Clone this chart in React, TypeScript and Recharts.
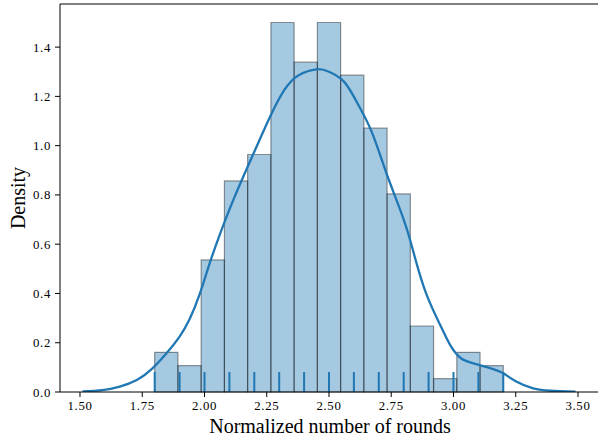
import React from 'react';
import { ComposedChart, XAxis, YAxis, Line, ReferenceArea, ReferenceLine, Label } from 'recharts';

// Histogram bin edges and densities
const binEdges = [1.8, 1.8933, 1.9867, 2.08, 2.1733, 2.2667, 2.36, 2.4533, 2.5467, 2.64, 2.7333, 2.8267, 2.92, 3.0133, 3.1067, 3.2];
const densities = [0.161, 0.107, 0.536, 0.857, 0.964, 1.5, 1.339, 1.5, 1.286, 1.071, 0.804, 0.268, 0.054, 0.161, 0.107];

// KDE curve
const kdeX = [1.51, 1.59, 1.66, 1.73, 1.79, 1.85, 1.9, 1.94, 1.98, 2.02, 2.06, 2.12, 2.2, 2.26, 2.32, 2.38, 2.45, 2.5, 2.56, 2.61, 2.67, 2.73, 2.8, 2.84, 2.89, 2.95, 2.99, 3.03, 3.08, 3.15, 3.2, 3.25, 3.32, 3.39, 3.49];
const kdeY = [0.002, 0.008, 0.022, 0.05, 0.095, 0.16, 0.225, 0.295, 0.395, 0.52, 0.635, 0.79, 0.975, 1.11, 1.225, 1.287, 1.31, 1.3, 1.26, 1.18, 1.06, 0.89, 0.7, 0.565, 0.4, 0.265, 0.185, 0.137, 0.116, 0.096, 0.076, 0.044, 0.015, 0.005, 0.001];

// Rug (observed values)
const rugValues = [1.8, 1.9, 2.0, 2.1, 2.2, 2.3, 2.4, 2.5, 2.6, 2.7, 2.8, 2.9, 3.0, 3.1, 3.2];

const xTicks = [1.5, 1.75, 2.0, 2.25, 2.5, 2.75, 3.0, 3.25, 3.5];
const yTicks = [0, 0.2, 0.4, 0.6, 0.8, 1.0, 1.2, 1.4];

const X_MIN = 1.4197;
const X_MAX = 3.5884;
const Y_MAX = 1.575;
const RUG_H = 0.081;

const FONT = '"Liberation Serif", "DejaVu Serif", serif';
const BLUE = '#1f77b4';

const kdeData = kdeX.map((x, i) => ({ x, y: kdeY[i] }));
const tickStyle = { fill: '#000', fontSize: 12.8, fontFamily: FONT, letterSpacing: 0.7 };

export default function App() {
  return (
    <div style={{ position: 'absolute', left: 0, top: 0, width: 598, height: 440, overflow: 'hidden', background: '#fff' }}>
      <ComposedChart width={600} height={440} margin={{ top: 4, right: 0, bottom: 0, left: 0 }}>
        <XAxis
          type="number"
          dataKey="x"
          domain={[X_MIN, X_MAX]}
          allowDataOverflow
          ticks={xTicks}
          tickFormatter={(v: number) => v.toFixed(2)}
          height={48}
          stroke="#000"
          tickSize={5}
          tickMargin={4}
          tick={tickStyle}
        >
          <Label value="Normalized number of rounds" position="center" dy={10} fill="#000" fontSize={20} fontFamily={FONT} />
        </XAxis>
        <YAxis
          type="number"
          domain={[0, Y_MAX]}
          allowDataOverflow
          ticks={yTicks}
          tickFormatter={(v: number) => v.toFixed(1)}
          width={60}
          stroke="#000"
          tickSize={5}
          tickMargin={4}
          tick={tickStyle}
        >
          <Label value="Density" angle={-90} position="center" dx={-12} fill="#000" fontSize={20} fontFamily={FONT} />
        </YAxis>
        {densities.map((d, i) => (
          <ReferenceArea
            key={'bin' + i}
            x1={binEdges[i]}
            x2={binEdges[i + 1]}
            y1={0}
            y2={d}
            fill={BLUE}
            fillOpacity={0.4}
            stroke="#000"
            strokeOpacity={0.4}
            strokeWidth={1.2}
          />
        ))}
        <ReferenceLine y={Y_MAX} stroke="#000" strokeWidth={1} />
        <Line
          data={kdeData}
          dataKey="y"
          type="natural"
          stroke={BLUE}
          strokeWidth={2.3}
          dot={false}
          activeDot={false}
          isAnimationActive={false}
        />
        {rugValues.map((v, i) => (
          <ReferenceLine
            key={'rug' + i}
            segment={[{ x: v, y: 0 }, { x: v, y: RUG_H }]}
            stroke={BLUE}
            strokeWidth={2}
          />
        ))}
      </ComposedChart>
    </div>
  );
}
